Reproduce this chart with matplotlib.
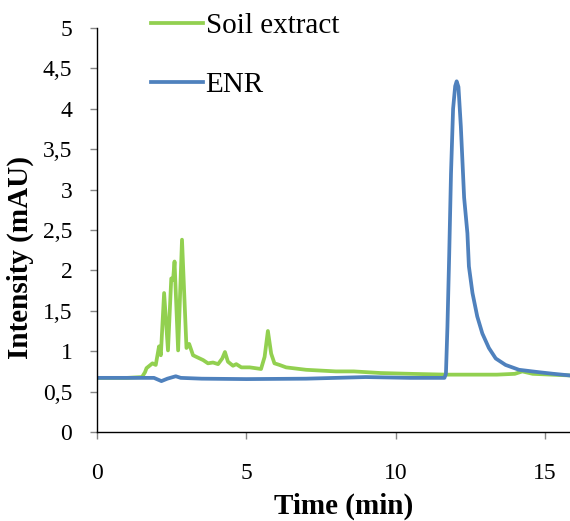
import matplotlib

matplotlib.use("Agg")
import matplotlib.pyplot as plt
from matplotlib.ticker import FixedLocator, FuncFormatter

GREEN = "#92d050"
BLUE = "#4f81bd"
TICK = "#868686"

# retention time (min) / absorbance (mAU)
soil_t = [0, 1.0, 1.5, 1.6, 1.65, 1.85, 1.96, 2.07, 2.13, 2.24, 2.37, 2.48, 2.54, 2.59,
          2.71, 2.84, 2.99, 3.08, 3.21, 3.32, 3.55, 3.71, 3.88, 4.05, 4.19, 4.28, 4.38,
          4.55, 4.66, 4.83, 5.11, 5.49, 5.61, 5.72, 5.83, 5.94, 6.11, 6.33, 7.0, 8.0,
          8.6, 9.5, 10.5, 11.7, 13.4, 14.0, 14.25, 14.6, 15.85]
soil_i = [0.67, 0.67, 0.68, 0.74, 0.79, 0.85, 0.83, 1.06, 0.95, 1.72, 1.01, 1.90, 1.88, 2.11,
          1.01, 2.38, 1.04, 1.09, 0.95, 0.93, 0.89, 0.85, 0.86, 0.84, 0.91, 0.99, 0.87,
          0.82, 0.84, 0.80, 0.80, 0.78, 0.93, 1.25, 0.97, 0.85, 0.83, 0.80, 0.77, 0.75,
          0.75, 0.73, 0.72, 0.71, 0.71, 0.72, 0.75, 0.72, 0.70]

enr_t = [0, 1.5, 1.9, 2.15, 2.35, 2.63, 2.8, 3.5, 5.0, 7.0, 9.0, 10.5, 11.55, 11.64,
         11.69, 11.74, 11.80, 11.86, 11.93, 12.0, 12.05, 12.11, 12.19, 12.30, 12.41,
         12.46, 12.58, 12.74, 12.91, 13.13, 13.36, 13.69, 14.14, 14.81, 15.3, 15.85]
enr_i = [0.67, 0.67, 0.67, 0.63, 0.66, 0.69, 0.67, 0.66, 0.655, 0.66, 0.68, 0.67, 0.67, 0.67,
         0.72, 1.3, 2.2, 3.2, 4.0, 4.28, 4.34, 4.27, 3.78, 2.9, 2.46,
         2.05, 1.72, 1.43, 1.22, 1.04, 0.91, 0.83, 0.77, 0.74, 0.72, 0.70]

x_ticks = [0, 5, 10, 15]
y_ticks = [0, 0.5, 1, 1.5, 2, 2.5, 3, 3.5, 4, 4.5, 5]

plt.rcParams["font.family"] = ["Liberation Serif", "DejaVu Serif"]

fig = plt.figure(figsize=(5.7, 5.21), dpi=100)
ax = fig.add_axes([0.1707, 0.1708, 0.8293, 0.7755])

ax.plot(soil_t, soil_i, color=GREEN, lw=2.7, label="Soil extract", solid_joinstyle="round")
ax.plot(enr_t, enr_i, color=BLUE, lw=2.7, label="ENR", solid_joinstyle="round")

ax.set_xlim(0, 15.85)
ax.set_ylim(0, 5)
ax.xaxis.set_major_locator(FixedLocator(x_ticks))
ax.yaxis.set_major_locator(FixedLocator(y_ticks))
ax.yaxis.set_major_formatter(FuncFormatter(lambda v, _: f"{v:g}".replace(".", ",")))

for side in ("top", "right"):
    ax.spines[side].set_visible(False)
for side in ("left", "bottom"):
    ax.spines[side].set_color("black")
    ax.spines[side].set_linewidth(1.0)
ax.tick_params(axis="both", direction="out", length=5, width=1, color=TICK,
               labelsize=17, labelcolor="black")
ax.tick_params(axis="x", pad=17)
ax.tick_params(axis="y", pad=13)

ax.set_xlabel("Time (min)", fontsize=21, fontweight="bold")
ax.set_ylabel("Intensity (mAU)", fontsize=21, fontweight="bold")
ax.xaxis.set_label_coords(0.522, -0.151)
ax.yaxis.set_label_coords(-0.133, 0.431)

ax.legend(loc="upper left", bbox_to_anchor=(0.262, 0.979), bbox_transform=fig.transFigure,
          frameon=False, fontsize=21, handlelength=1.78, handletextpad=0.1,
          labelspacing=1.12, borderpad=0.05, borderaxespad=0)

fig.savefig("out.png", dpi=100, facecolor="white")
